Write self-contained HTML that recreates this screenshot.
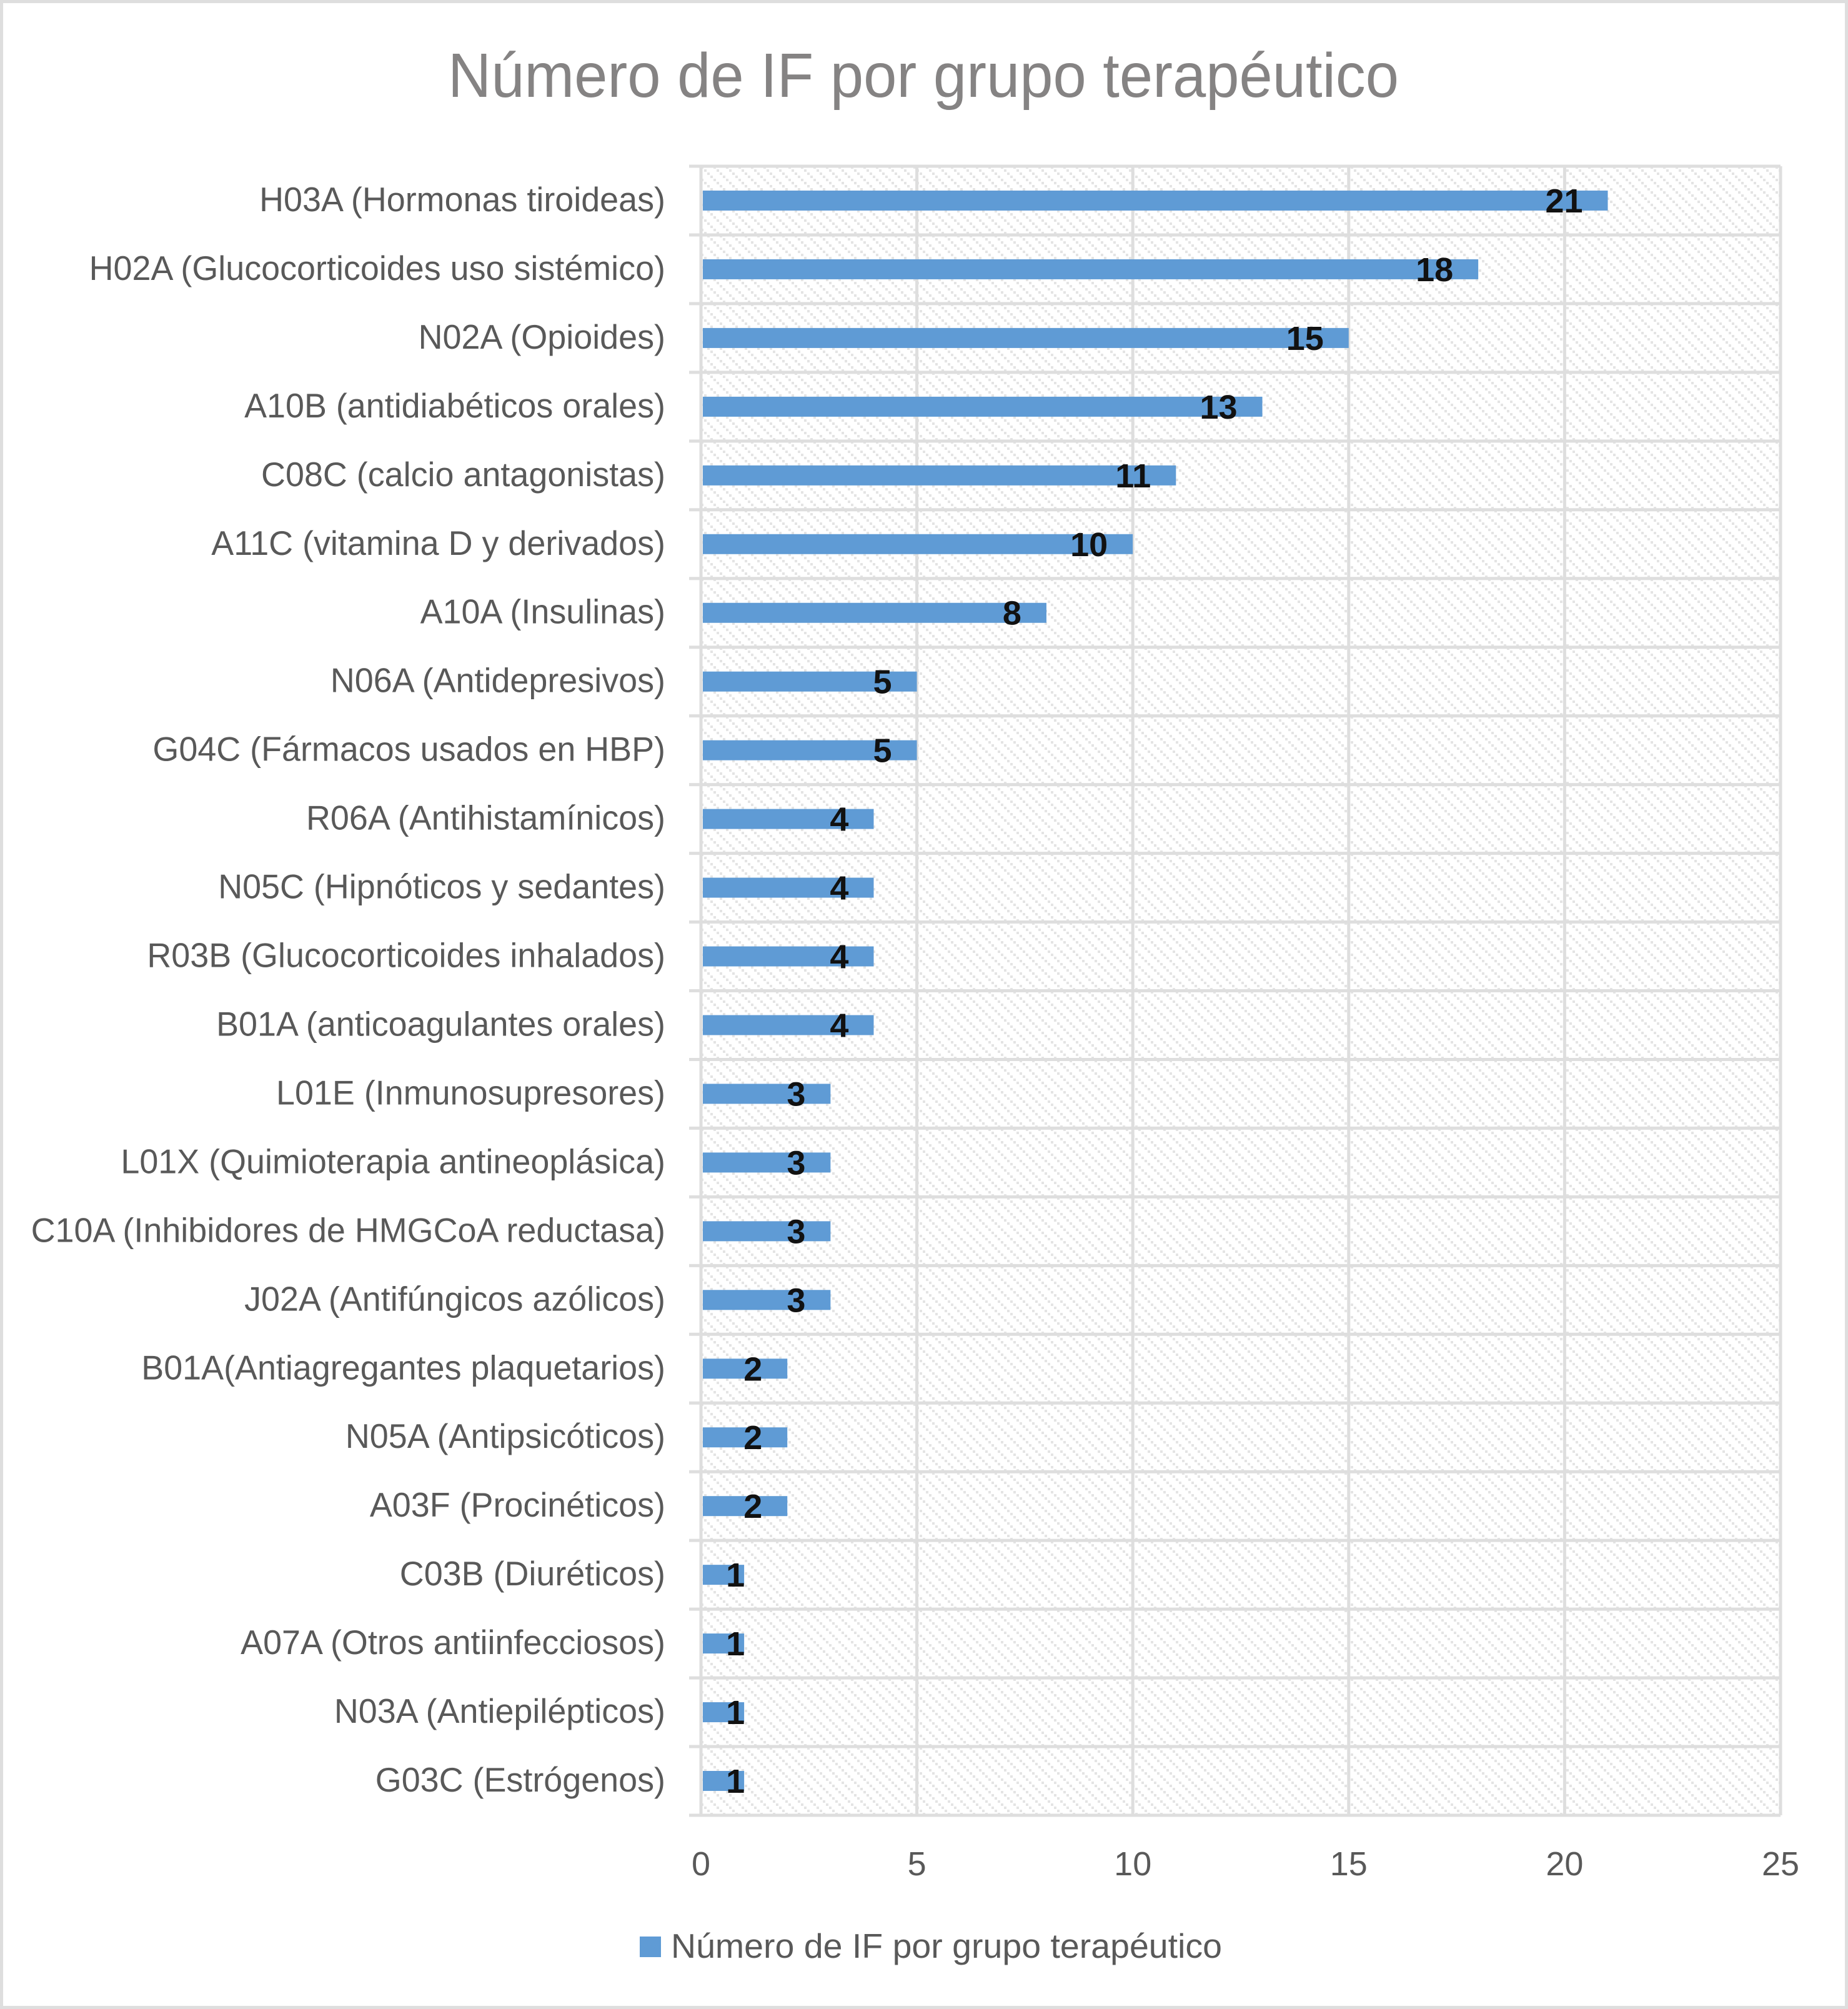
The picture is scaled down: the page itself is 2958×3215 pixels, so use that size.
<!DOCTYPE html>
<html lang="es">
<head>
<meta charset="utf-8">
<title>Número de IF por grupo terapéutico</title>
<style>
html,body{margin:0;padding:0;background:#fff;}
svg{display:block;}
text{font-family:"Liberation Sans",sans-serif;}
</style>
</head>
<body>
<svg id="chart" xmlns="http://www.w3.org/2000/svg" width="2958" height="3215" viewBox="0 0 2958 3215">
  <defs>
    <pattern id="hatch" width="20" height="20" patternUnits="userSpaceOnUse" x="2" y="6">
      <rect width="20" height="20" fill="#fff"/>
      <rect x="0" y="0" width="4" height="4" fill="#e4e4e4"/>
      <rect x="5" y="5" width="4" height="4" fill="#e4e4e4"/>
      <rect x="10" y="10" width="4" height="4" fill="#e4e4e4"/>
      <rect x="15" y="15" width="4" height="4" fill="#e4e4e4"/>
    </pattern>
  </defs>
  <rect x="2.5" y="2.5" width="2953" height="3210" fill="#fff" stroke="#dedede" stroke-width="5"/>
  <text x="717" y="155" font-size="100" fill="#858383" textLength="1522" lengthAdjust="spacingAndGlyphs">Número de IF por grupo terapéutico</text>
  <rect x="1122" y="266" width="1728" height="2639" fill="url(#hatch)"/>
  <g id="grid"></g>
  <g id="cats"></g>
  <g id="bars"></g>
  <g id="vals"></g>
  <g id="ticks"></g>
  <g>
    <rect x="1024" y="3099" width="34" height="33" fill="#5f9bd5"/>
    <text x="1074" y="3133" font-size="55" fill="#595959" textLength="882" lengthAdjust="spacingAndGlyphs">Número de IF por grupo terapéutico</text>
  </g>
</svg>
<script>
const categories = [
  "H03A (Hormonas tiroideas)",
  "H02A (Glucocorticoides uso sistémico)",
  "N02A (Opioides)",
  "A10B (antidiabéticos orales)",
  "C08C (calcio antagonistas)",
  "A11C (vitamina D y derivados)",
  "A10A (Insulinas)",
  "N06A (Antidepresivos)",
  "G04C (Fármacos usados en HBP)",
  "R06A (Antihistamínicos)",
  "N05C (Hipnóticos y sedantes)",
  "R03B (Glucocorticoides inhalados)",
  "B01A (anticoagulantes orales)",
  "L01E (Inmunosupresores)",
  "L01X (Quimioterapia antineoplásica)",
  "C10A (Inhibidores de HMGCoA reductasa)",
  "J02A (Antifúngicos azólicos)",
  "B01A(Antiagregantes plaquetarios)",
  "N05A (Antipsicóticos)",
  "A03F (Procinéticos)",
  "C03B (Diuréticos)",
  "A07A (Otros antiinfecciosos)",
  "N03A (Antiepilépticos)",
  "G03C (Estrógenos)"
];
const seriesValues = [21,18,15,13,11,10,8,5,5,4,4,4,4,3,3,3,3,2,2,2,1,1,1,1];
const tickLabels = [0,5,10,15,20,25];

const NS = "http://www.w3.org/2000/svg";
const plot = {left:1122, right:2850, top:266, bottom:2905};
const maxValue = tickLabels[tickLabels.length-1];
const xAxis = v => plot.left + (v/maxValue)*(plot.right-plot.left);
const bandH = () => (plot.bottom-plot.top)/categories.length;
const yAxis = i => plot.top + (i+0.5)*bandH();
const GRID = "#dedede";

function make(parent, tag, attrs, txt){
  const el = document.createElementNS(NS, tag);
  for (const k in attrs) el.setAttribute(k, attrs[k]);
  if (txt !== undefined) el.textContent = txt;
  parent.appendChild(el);
  return el;
}

const gGrid = document.getElementById("grid");
const gCats = document.getElementById("cats");
const gBars = document.getElementById("bars");
const gVals = document.getElementById("vals");
const gTicks = document.getElementById("ticks");

tickLabels.forEach(t => {
  const x = xAxis(t);
  const line = make(gGrid, "line", {x1:x, x2:x, y1:plot.top, y2:plot.bottom, stroke:GRID, "stroke-width":5});
  
  
  const label = make(gTicks, "text", {transform:`translate(${x},3001) scale(1,1)`, "text-anchor":"middle", "font-size":54, fill:"#595959"}, t);
  
  
});

for (let i = 0; i <= categories.length; i++){
  const y = plot.top + i*bandH();
  const line = make(gGrid, "line", {x1:plot.left-19, x2:plot.right, y1:y, y2:y, stroke:GRID, "stroke-width":5});
  
  
}

categories.forEach((c,i) => {
  const y = yAxis(i);
  const cat = make(gCats, "text", {transform:`translate(1065,${y+17}) scale(0.98,1)`, "text-anchor":"end", "font-size":55, fill:"#595959"}, c);
  
  

  const v = seriesValues[i];
  const end = xAxis(v);
  const bar = make(gBars, "rect", {x:plot.left+3, y:y-16, width:end-plot.left-3, height:32, fill:"#5f9bd5"});
  
  

  const labelRight = Math.max(end-40, xAxis(1)+1);
  const val = make(gVals, "text", {transform:`translate(${labelRight},${y+19}) scale(1,1)`, "text-anchor":"end", "font-size":54, "font-weight":"bold", fill:"#111"}, v);
  
  
});
</script>
</body>
</html>
